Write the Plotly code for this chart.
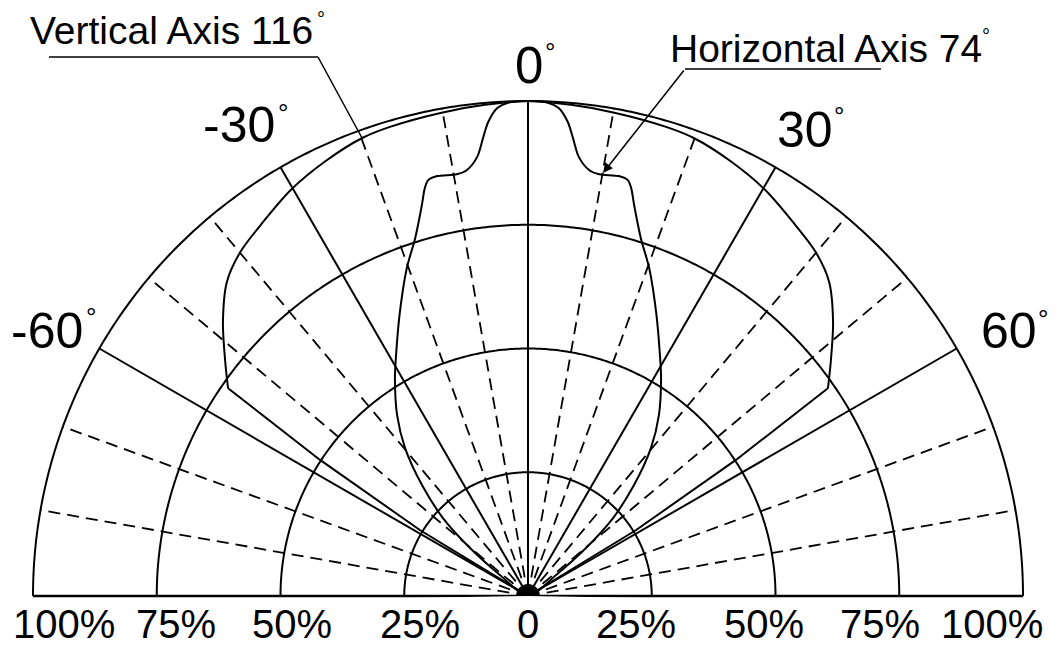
import plotly.graph_objects as go
import numpy as np

W, H = 1060, 645
FONT = "Liberation Sans, Arial, sans-serif"

# ---- grid definition (percent rings, spoke angles in degrees, 0 = up) ----
ring_levels = [25, 50, 75, 100]
solid_spokes = [-60, -30, 0, 30, 60]
dashed_spokes = [-80, -70, -50, -40, -20, -10, 10, 20, 40, 50, 70, 80]

# ---- narrow pattern ("Horizontal Axis 74°") ----
h74_theta = [-56, -53.1, -50.4, -47.5, -43.7, -39.7, -35.9, -31.4, -28.7, -24.3,
             -20.3, -17.5, -15.2, -14.2, -13.5, -12.2, -9.6, -8.2, -6.6, -5.6,
             -4.8, -3.6, -2.4, 0,
             2.4, 3.6, 4.8, 5.6, 6.6, 8.2, 9.6, 12.2, 13.5, 14.2, 15.2, 17.5,
             20.3, 24.3, 28.7, 31.4, 35.9, 39.7, 43.7, 47.5, 50.4, 53.1, 56]
h74_r = [0, 7.1, 15.2, 23.3, 31.0, 38.9, 45.1, 51.6, 55.5, 62.9,
         70.6, 75.8, 81.8, 85.0, 86.4, 86.8, 86.4, 86.9, 89.3, 93.0,
         96.1, 98.8, 99.7, 100,
         99.7, 98.8, 96.1, 93.0, 89.3, 86.9, 86.4, 86.8, 86.4, 85.0, 81.8, 75.8,
         70.6, 62.9, 55.5, 51.6, 45.1, 38.9, 31.0, 23.3, 15.2, 7.1, 0]

# ---- wide pattern ("Vertical Axis 116°") ----
v116_arc_theta = [-55.3, -52.3, -48.1, -43.8, -39.9, -35.3, -30.3, -25, -19.9,
                  -16.4, -10, -5, 0, 5, 10, 16.4, 19.9, 25, 30.3, 35.3, 39.9,
                  43.8, 48.1, 52.3, 55.3]
v116_arc_r = [73.7, 77.3, 82.8, 87.9, 90.6, 92.6, 95.0, 96.9, 98.4,
              98.8, 99.2, 99.6, 100, 99.6, 99.2, 98.8, 98.4, 96.9, 95.0, 92.6,
              90.6, 87.9, 82.8, 77.3, 73.7]
v116_tail_theta = [-55.3, -56.8, -58.6, -60]
v116_tail_r = [73.7, 50.2, 25.6, 0]

angle_labels = ["-60", "-30", "0", "30", "60"]
pct_labels = ["100%", "75%", "50%", "25%", "0", "25%", "50%", "75%", "100%"]

LINE = dict(color="black", width=2)

fig = go.Figure()
arc = np.linspace(-90, 90, 361)
for lv in ring_levels:
    fig.add_trace(go.Scatterpolar(r=[lv] * len(arc), theta=arc, mode="lines",
                                  line=LINE, hoverinfo="skip"))
# baseline (-90 .. 90)
fig.add_trace(go.Scatterpolar(r=[100, 0, 100], theta=[-90, 0, 90], mode="lines",
                              line=dict(color="black", width=2.5), hoverinfo="skip"))
for a in solid_spokes:
    fig.add_trace(go.Scatterpolar(r=[0, 100], theta=[a, a], mode="lines",
                                  line=LINE, hoverinfo="skip"))
for a in dashed_spokes:
    fig.add_trace(go.Scatterpolar(r=[0, 100], theta=[a, a], mode="lines",
                                  line=dict(color="black", width=1.8, dash="12px,7px"),
                                  hoverinfo="skip"))
# patterns
fig.add_trace(go.Scatterpolar(r=h74_r, theta=h74_theta, mode="lines",
                              line=dict(color="black", width=2, shape="spline", smoothing=0.8),
                              name="Horizontal Axis 74°"))
fig.add_trace(go.Scatterpolar(r=v116_arc_r, theta=v116_arc_theta, mode="lines",
                              line=dict(color="black", width=2, shape="spline", smoothing=0.8),
                              name="Vertical Axis 116°"))
fig.add_trace(go.Scatterpolar(r=v116_tail_r, theta=v116_tail_theta, mode="lines",
                              line=LINE, hoverinfo="skip"))
fig.add_trace(go.Scatterpolar(r=v116_tail_r, theta=[-t for t in v116_tail_theta], mode="lines",
                              line=LINE, hoverinfo="skip"))
# centre hub
fig.add_trace(go.Scatterpolar(r=[2] * len(arc), theta=arc, mode="lines", fill="toself",
                              fillcolor="black", line=dict(color="black", width=1),
                              hoverinfo="skip"))


def px(x):
    return x / W


def py(y):
    return 1 - y / H


def ann(text, x, y_base, size, xanchor="center"):
    return dict(text=text, x=px(x), y=py(y_base - 0.3465 * size), xref="paper", yref="paper",
                xanchor=xanchor, yanchor="middle", showarrow=False,
                font=dict(size=size, color="black", family=FONT))


def deg(x, y, size):
    return dict(text="°", x=px(x), y=py(y + 0.22 * size), xref="paper", yref="paper",
                xanchor="center", yanchor="middle", showarrow=False,
                font=dict(size=size, color="black", family=FONT))


annotations = []
label_pos = [(47, 348), (239, 142), (529, 83), (804.5, 147), (1008.5, 348)]
label_size = [50, 50, 51, 50, 50]
deg_pos = [(91, 311), (283, 107), (550, 46), (839, 110), (1043, 313)]
for t, (x, y), s, (dx, dy) in zip(angle_labels, label_pos, label_size, deg_pos):
    annotations.append(ann(t, x, y, s))
    annotations.append(deg(dx, dy, 26))

pct_x = [64, 176, 292, 420, 528, 636, 764, 880, 992]
for t, x in zip(pct_labels, pct_x):
    annotations.append(ann(t, x, 638, 40))

annotations.append(ann("Vertical Axis 116", 28, 44, 39, xanchor="left"))
annotations.append(deg(321, 15, 20))
annotations.append(ann("Horizontal Axis 74", 668, 62, 39, xanchor="left"))
annotations.append(deg(986, 32, 20))

# arrow for Horizontal Axis leader
annotations.append(dict(text="", x=px(603), y=py(173), xref="paper", yref="paper",
                        ax=685 - 603, ay=69 - 173, axref="pixel", ayref="pixel",
                        showarrow=True, arrowhead=2, arrowsize=1.3, arrowwidth=1.5,
                        arrowcolor="black"))

shapes = [
    dict(type="line", x0=px(49), y0=py(57), x1=px(318), y1=py(57), xref="paper", yref="paper",
         line=dict(color="black", width=1.5)),
    dict(type="line", x0=px(318), y0=py(57), x1=px(362), y1=py(138), xref="paper", yref="paper",
         line=dict(color="black", width=1.5)),
    dict(type="line", x0=px(685), y0=py(69), x1=px(881), y1=py(69), xref="paper", yref="paper",
         line=dict(color="black", width=1.5)),
]

# polar frame: radius 100% -> 495 px, centre at (528, 596) px; range padded to avoid clipping
CX, CY, R100 = 528, 596, 495
RMAX = 102
RF = R100 * RMAX / 100
below = RF * np.sin(np.radians(1))
dom_x = [(CX - RF) / W, (CX + RF) / W]
dom_y = [(H - (CY + below)) / H, (H - (CY - RF)) / H]

fig.update_layout(
    width=W, height=H,
    margin=dict(l=0, r=0, t=0, b=0),
    paper_bgcolor="white",
    showlegend=False,
    polar=dict(
        domain=dict(x=dom_x, y=dom_y),
        sector=[-1, 181],
        bgcolor="rgba(0,0,0,0)",
        radialaxis=dict(range=[0, RMAX], visible=False, showgrid=False),
        angularaxis=dict(rotation=90, direction="clockwise", visible=False,
                         showgrid=False, thetaunit="degrees"),
    ),
    annotations=annotations,
    shapes=shapes,
)

fig.write_html("out.html", config={"displayModeBar": False},
               post_script="document.body.style.margin='0px';document.body.style.overflow='hidden';")
